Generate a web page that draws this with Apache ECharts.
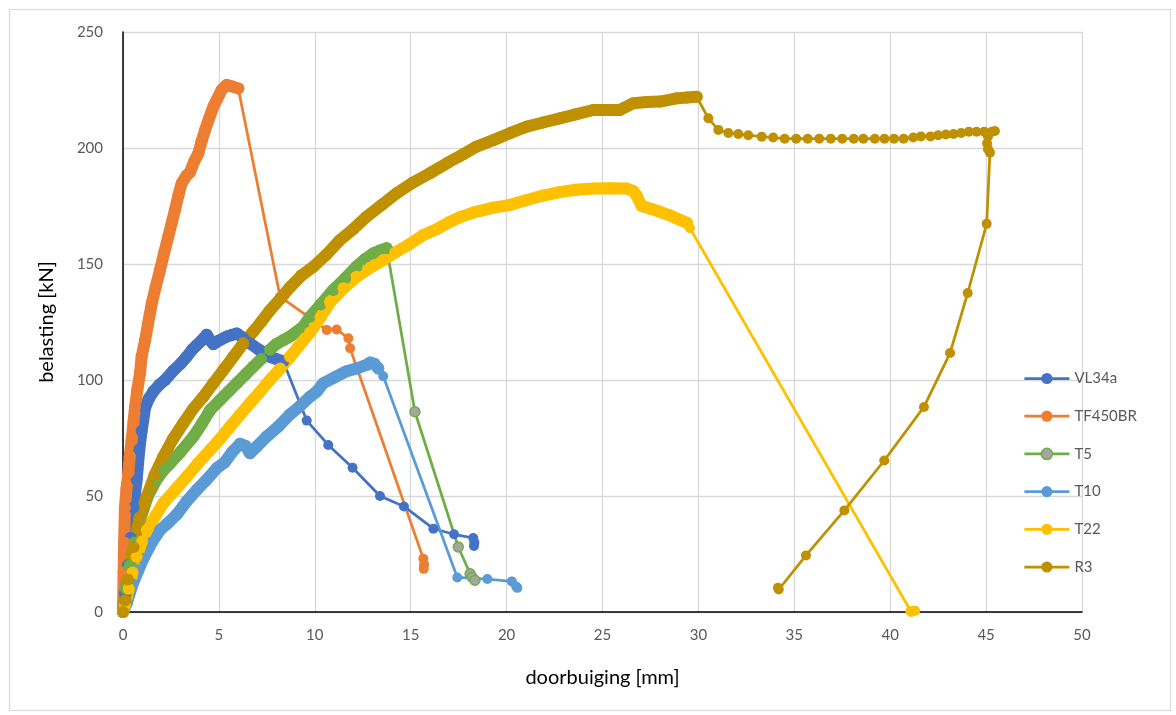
<!DOCTYPE html>
<html>
<head>
<meta charset="utf-8">
<script src="https://cdn.jsdelivr.net/npm/echarts@6/dist/echarts.min.js"></script>
<style>
  html, body { margin: 0; padding: 0; background: #ffffff; }
  #chart { width: 1176px; height: 715px; }
</style>
</head>
<body>
<div id="chart"></div>
<script>
// ---- data (x: doorbuiging [mm], y: belasting [kN]) ----
const seriesNames = ['VL34a', 'TF450BR', 'T5', 'T10', 'T22', 'R3'];
const xTicks = [0, 5, 10, 15, 20, 25, 30, 35, 40, 45, 50];
const yTicks = [0, 50, 100, 150, 200, 250];

const vl34aDense = [[0,0],[0.1,8],[0.25,20],[0.4,32],[0.55,45],[0.71,57],[0.85,70],[0.97,78],[1.15,88],[1.35,92],[1.58,95],[1.9,98],[2.19,100],[2.62,104],[3.0,107],[3.32,110],[3.6,113],[3.84,115],[4.1,117],[4.36,119.5],[4.55,117],[4.71,115.5],[5.0,117],[5.41,118.7],[5.7,119.5],[5.93,120],[6.3,118],[6.62,115.8],[7.1,113],[7.66,110],[8.0,109],[8.36,108]];
const vl34aTail = [[8.36,108],[9.58,82.5],[10.7,72],[11.97,62.2],[13.4,50],[14.65,45.5],[16.18,35.9],[17.26,33.5],[18.26,31.9],[18.32,30],[18.3,28.5]];

const tf450Dense = [[0,0],[0.03,17],[0.06,30],[0.1,45],[0.18,53],[0.28,60],[0.35,67],[0.45,74],[0.55,82],[0.63,88.5],[0.75,96],[0.89,103],[0.97,110],[1.15,117],[1.3,124],[1.5,133],[1.7,140],[1.93,147.4],[2.15,155],[2.36,161.8],[2.55,168],[2.71,173.3],[2.9,180],[3.06,184.8],[3.3,188],[3.49,189.5],[3.7,194],[3.93,197.7],[4.1,203],[4.28,207.8],[4.5,213],[4.71,217.8],[4.9,221],[5.14,225],[5.4,227.2],[5.7,226.5],[6.01,225.7]];
const tf450Tail = [[6.01,225.7],[8.19,135.9],[10.62,121.6],[11.14,121.8],[11.75,118],[11.84,113.7],[15.66,23],[15.7,20.5],[15.68,18.6]];

const t5Dense = [[0,0],[0.15,10],[0.35,20],[0.6,30],[0.9,40],[1.3,50],[1.75,57],[2.1,61],[2.45,64],[3.0,69],[3.67,75.6],[4.1,81],[4.54,87],[5.06,91.4],[5.5,95],[5.93,98.6],[6.4,102.5],[6.79,105.7],[7.2,109],[7.66,113],[8.0,115.5],[8.36,117.2],[8.7,118.7],[9.4,123],[9.75,127.3],[10.3,132.5],[10.96,138.8],[11.6,144],[12.18,148.9],[12.6,152],[13.05,154.6],[13.4,155.8],[13.75,156.8]];
const t5Tail = [[13.75,156.8],[15.22,86.3],[17.48,28],[18.1,16.5],[18.2,15],[18.35,13.7]];

const t10Dense = [[0,0],[0.19,3.7],[0.5,12],[0.8,18],[1.06,23],[1.5,30],[1.93,35.3],[2.3,38],[2.8,42],[3.3,47.5],[3.84,52.6],[4.3,56.5],[4.89,62],[5.3,64.5],[5.7,69],[6.1,72.5],[6.4,71.5],[6.62,68.4],[7.0,71.5],[7.49,75.6],[8.1,80],[8.71,85.2],[9.2,88.5],[9.75,92.8],[10.1,95],[10.44,98.6],[11.0,101],[11.66,103.8],[12.2,105],[12.7,106.5],[12.88,107.5],[13.1,107],[13.31,105]];
const t10Tail = [[13.31,105],[13.57,101.6],[17.43,14.9],[19.0,14.2],[20.27,13.2],[20.5,11],[20.56,10.4]];

const t22Dense = [[0,0],[0.1,3],[0.3,10],[0.5,17],[0.71,23.8],[1.0,30.5],[1.24,35.3],[1.7,41.5],[2.1,46.9],[2.7,52.5],[3.32,58.3],[3.9,64],[4.54,69.8],[5.1,75],[5.58,79.9],[6.1,85],[6.62,90],[7.1,94.5],[7.66,100],[8.2,105],[8.71,110],[9.2,115],[9.75,120.5],[10.3,127],[10.79,133.5],[11.5,139.5],[12.18,144.5],[12.9,148.5],[13.57,151.7],[14.2,155],[14.79,157.8],[15.66,162.5],[16.35,165],[17.0,168],[17.57,170.2],[18.4,172.5],[19.31,174.3],[20.2,175.5],[21.05,177.6],[21.9,179.5],[22.78,181],[23.6,182],[24.52,182.5],[25.4,182.6],[26.26,182.5],[26.6,181.5],[26.78,179.5],[27.04,175],[27.5,173.8],[28,172.5],[28.5,171],[29.04,169],[29.4,167.8]];
const t22Tail = [[29.4,167.8],[29.56,165.4],[41.1,0],[41.2,0.4],[41.3,0.5],[41.05,0.3]];

const r3Dense = [[0,0],[0.1,5],[0.25,14],[0.54,28],[0.85,40],[1.24,49.7],[1.65,59],[2.1,66.9],[2.6,74.5],[3.14,81.3],[3.65,87.5],[4.19,92.8],[4.7,98.5],[5.23,104.3],[5.75,110],[6.27,115.8],[6.8,121],[7.2,125],[7.66,130],[8.2,135],[8.71,140],[9.3,145],[9.92,148.8],[10.6,154],[11.31,160.3],[12.0,165],[12.7,170.4],[13.5,175.5],[14.27,180.5],[15.1,185],[16.0,189.1],[16.9,193.5],[17.74,197.3],[18.4,200.5],[19.31,203.4],[20.2,206.5],[21.05,209.2],[21.9,211],[22.78,212.8],[23.6,214.5],[24.52,216.4],[25.2,216.4],[25.91,216.4],[26.61,219.3],[27.3,219.8],[28,220],[28.87,221.4],[29.4,221.8],[29.91,222.1]];
const r3Tail = [[29.91,222.1],[30.52,212.8],[31.04,207.8],[31.56,206.5],[32.08,206],[32.6,205.5],[33.3,204.9],[33.9,204.5],[34.5,204],[35.1,204],[35.7,204],[36.3,204],[36.9,204],[37.5,204],[38.1,204],[38.6,204],[39.2,204],[39.7,204],[40.2,204],[40.7,204],[41.2,204.5],[41.6,205],[42.1,205],[42.5,205.5],[42.9,205.8],[43.3,206],[43.7,206.5],[44.1,207],[44.5,207],[44.9,207],[45.3,207],[45.46,207.3],[45.1,205],[45.05,202],[45.1,199.5],[45.2,198],[45.03,167.3],[44.04,137.5],[43.12,111.6],[41.76,88.4],[39.69,65.3],[37.61,43.8],[35.61,24.4],[34.19,9.7],[34.15,10.5]];

// ---- styles ----
const colors = {
  'VL34a': '#4472C4',
  'TF450BR': '#ED7D31',
  'T5': '#70AD47',
  'T10': '#5B9BD5',
  'T22': '#FFC000',
  'R3': '#BF9000'
};
const markerFill = { 'T5': '#A5A5A5' };
const curves = [
  ['VL34a', vl34aDense, vl34aTail],
  ['TF450BR', tf450Dense, tf450Tail],
  ['T5', t5Dense, t5Tail],
  ['T10', t10Dense, t10Tail],
  ['T22', t22Dense, t22Tail],
  ['R3', r3Dense, r3Tail]
];

const FONT = 'Lato, "Open Sans", sans-serif';
const series = [];
curves.forEach(function (c) {
  const name = c[0], col = colors[name], fill = markerFill[name] || col;
  series.push({
    name: name, type: 'line', data: c[2],
    symbol: 'circle', symbolSize: 10, showSymbol: true,
    lineStyle: { color: col, width: 2.75 },
    itemStyle: { color: fill, borderColor: col, borderWidth: fill === col ? 0 : 1.5 },
    emphasis: { disabled: true }, animation: false
  });
  series.push({
    name: name, type: 'line', data: c[1],
    symbol: 'circle', symbolSize: 12, showSymbol: true,
    lineStyle: { color: col, width: 12, cap: 'round', join: 'round' },
    itemStyle: { color: col },
    emphasis: { disabled: true }, animation: false
  });
});

const chart = echarts.init(document.getElementById('chart'), null, { renderer: 'canvas' });
chart.setOption({
  backgroundColor: '#ffffff',
  animation: false,
  textStyle: { fontFamily: FONT },
  graphic: [{
    type: 'rect', left: 7, top: 7, silent: true,
    shape: { width: 1161, height: 701 },
    style: { fill: 'none', stroke: '#D9D9D9', lineWidth: 1.2 }
  }],
  grid: { left: 123, right: 94, top: 32, bottom: 103, containLabel: false },
  legend: {
    orient: 'vertical', left: 1018, top: 366,
    itemWidth: 45, itemHeight: 14, itemGap: 22.7,
    textStyle: { fontFamily: FONT, fontSize: 15, color: '#595959', padding: [0, 0, 0, 0] },
    data: seriesNames.map(function (n) {
      return {
        name: n,
        lineStyle: { color: colors[n], width: 2.75 },
        itemStyle: { color: markerFill[n] || colors[n], borderColor: colors[n], borderWidth: markerFill[n] ? 1.5 : 0 }
      };
    })
  },
  xAxis: {
    type: 'value', min: 0, max: 50, interval: 5,
    name: 'doorbuiging [mm]', nameLocation: 'middle', nameGap: 56,
    nameTextStyle: { fontFamily: FONT, fontSize: 20, color: '#000000' },
    axisLine: { show: true, onZero: false, lineStyle: { color: '#000000', width: 1.5 } },
    axisTick: { show: false },
    axisLabel: { color: '#595959', fontSize: 15, margin: 16, fontFamily: FONT,
      formatter: function (v) { return xTicks.indexOf(v) >= 0 ? String(v) : ''; } },
    splitLine: { show: true, lineStyle: { color: '#D9D9D9', width: 1.3 } }
  },
  yAxis: {
    type: 'value', min: 0, max: 250, interval: 50,
    name: 'belasting [kN]', nameLocation: 'middle', nameGap: 66,
    nameTextStyle: { fontFamily: FONT, fontSize: 20, color: '#000000' },
    axisLine: { show: true, onZero: false, lineStyle: { color: '#000000', width: 1.5 } },
    axisTick: { show: false },
    axisLabel: { color: '#595959', fontSize: 15, margin: 20, fontFamily: FONT,
      formatter: function (v) { return yTicks.indexOf(v) >= 0 ? String(v) : ''; } },
    splitLine: { show: true, lineStyle: { color: '#D9D9D9', width: 1.3 } }
  },
  series: series
});
</script>
</body>
</html>
